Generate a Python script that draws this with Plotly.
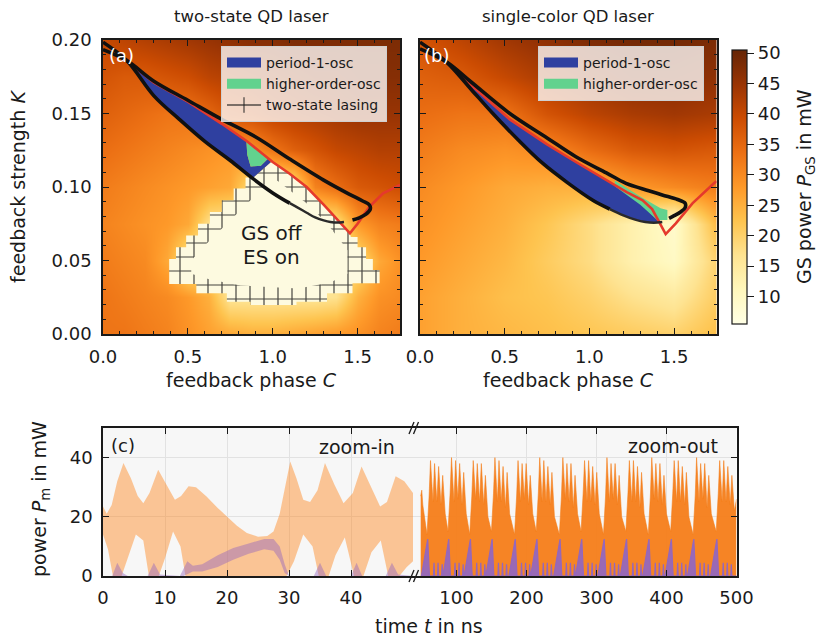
import plotly.graph_objects as go

# ---------------- data: GS power maps ----------------
ys = [0, 0.025, 0.05, 0.075, 0.1, 0.125, 0.15, 0.175, 0.2]
xs_a = [0, 0.125, 0.25, 0.375, 0.5, 0.625, 0.75, 0.875, 1.0, 1.125, 1.25, 1.375, 1.5, 1.625, 1.75]
z_a = [
    [33, 33, 32, 31, 29, 27, 26, 25, 25, 26, 27, 28, 29, 31, 32],
    [33, 32, 31, 30, 28, 25, 16, 16, 16, 16, 16, 17, 25, 29, 30],
    [32, 31, 30, 26, 16, 16, 16, 16, 16, 16, 16, 16, 18, 26, 29],
    [31, 30, 29, 28, 26, 17, 16, 16, 16, 16, 16, 17, 28, 31, 32],
    [32, 31, 30, 29, 28, 27, 26, 18, 16, 18, 31, 34, 37, 38, 39],
    [34, 33, 32, 31, 30, 29, 28, 29, 33, 36, 38, 40, 41, 42, 42],
    [36, 35, 34, 33, 33, 35, 38, 39, 41, 42, 43, 44, 45, 45, 45],
    [38, 37, 37, 38, 39, 41, 42, 43, 44, 45, 46, 46, 47, 47, 47],
    [40, 41, 42, 43, 44, 45, 46, 47, 47, 48, 48, 48, 48, 48, 48],
]
xs_b = [0, 0.25, 0.5, 0.75, 1.0, 1.25, 1.5, 1.75]
z_b = [
    [27, 25, 24, 23, 22, 21, 20, 23],
    [27, 25, 23, 22, 20, 17, 15, 21],
    [28, 26, 24, 21, 18, 13, 10, 20],
    [29, 27, 25, 22, 18, 13, 9, 24],
    [30, 28, 26, 25, 25, 28, 30, 32],
    [32, 30, 29, 30, 34, 37, 38, 37],
    [34, 33, 33, 38, 41, 43, 44, 43],
    [36, 37, 40, 43, 45, 47, 47, 46],
    [38, 41, 44, 46, 48, 49, 49, 48],
]

# ---------------- panel (a) curves/regions ----------------
ua_x = [0.0, 0.14, 0.3, 0.5, 0.7, 0.9, 1.1, 1.3, 1.45, 1.53, 1.57, 1.575, 1.55, 1.51, 1.47]
ua_y = [0.1935, 0.186, 0.172, 0.159, 0.146, 0.134, 0.119, 0.1047, 0.0952, 0.0905, 0.0878, 0.085, 0.0815, 0.079, 0.0775]
la_x = [0.0, 0.14, 0.3, 0.45, 0.6, 0.75, 0.88, 1.0, 1.1]
la_y = [0.1985, 0.186, 0.162, 0.146, 0.131, 0.118, 0.106, 0.096, 0.089]
lda_x = [1.1, 1.15, 1.2, 1.25, 1.3, 1.34, 1.38, 1.42]
lda_y = [0.089, 0.0858, 0.0825, 0.0793, 0.0773, 0.0762, 0.0758, 0.0762]
ra_x = [0.14, 0.3, 0.5, 0.7, 0.85, 1.0, 1.1, 1.2, 1.3, 1.38, 1.42, 1.455, 1.5, 1.57, 1.65, 1.75]
ra_y = [0.186, 0.171, 0.158, 0.143, 0.131, 0.117, 0.109, 0.100, 0.088, 0.078, 0.0725, 0.0685, 0.075, 0.0866, 0.0957, 0.1015]
blue_a_x = [0.14, 0.3, 0.5, 0.7, 0.845, 0.85, 0.87, 0.93, 0.97, 0.99, 0.886, 0.75, 0.6, 0.45, 0.3, 0.14]
blue_a_y = [0.186, 0.171, 0.158, 0.143, 0.131, 0.122, 0.114, 0.1145, 0.119, 0.117, 0.1065, 0.118, 0.131, 0.146, 0.162, 0.186]
green_a_x = [0.845, 0.97, 0.93, 0.87, 0.85]
green_a_y = [0.131, 0.119, 0.1145, 0.114, 0.122]
ring_out_x = [0.886, 0.84, 0.84, 0.77, 0.77, 0.70, 0.70, 0.63, 0.63, 0.56, 0.56, 0.49, 0.49, 0.43, 0.43,
              0.39, 0.39, 0.55, 0.55, 0.73, 0.73, 0.87, 0.87, 1.14, 1.14, 1.32, 1.32, 1.47, 1.47, 1.63,
              1.63, 1.59, 1.59, 1.55, 1.55, 1.50, 1.50, 1.46, 1.455, 1.42, 1.38, 1.3, 1.2, 1.1, 0.99]
ring_out_y = [0.1065, 0.1065, 0.099, 0.099, 0.091, 0.091, 0.083, 0.083, 0.075, 0.075, 0.067, 0.067, 0.059, 0.059, 0.051,
              0.051, 0.034, 0.034, 0.0277, 0.0277, 0.022, 0.022, 0.0197, 0.0197, 0.022, 0.022, 0.0277, 0.0277, 0.0345, 0.0345,
              0.0435, 0.0435, 0.051, 0.051, 0.059, 0.059, 0.066, 0.066, 0.0685, 0.0725, 0.078, 0.088, 0.100, 0.109, 0.117]
ring_in_x = [0.98, 0.93, 0.86, 0.79, 0.72, 0.65, 0.58, 0.52, 0.52, 0.63, 0.81, 1.15, 1.34, 1.44, 1.44, 1.39, 1.32, 1.22, 1.11, 1.03]
ring_in_y = [0.106, 0.098, 0.090, 0.082, 0.074, 0.066, 0.058, 0.050, 0.041, 0.037, 0.033, 0.031, 0.035, 0.041, 0.057, 0.065, 0.075, 0.087, 0.097, 0.104]

# ---------------- panel (b) curves/regions ----------------
ub_x = [0.0, 0.157, 0.3, 0.53, 0.75, 0.92, 1.1, 1.216, 1.35, 1.43, 1.52, 1.565, 1.565, 1.54, 1.5, 1.47]
ub_y = [0.194, 0.185, 0.1716, 0.150, 0.1334, 0.1206, 0.1096, 0.1025, 0.0975, 0.0946, 0.0915, 0.0889, 0.086, 0.0832, 0.0805, 0.0787]
lb_x = [0.0, 0.157, 0.3, 0.43, 0.58, 0.725, 0.87, 1.02, 1.12]
lb_y = [0.1985, 0.185, 0.1667, 0.150, 0.132, 0.116, 0.103, 0.091, 0.085]
ldb_x = [1.12, 1.2, 1.27, 1.33, 1.38, 1.43]
ldb_y = [0.085, 0.0807, 0.0778, 0.0762, 0.0757, 0.0762]
rb_x = [0.157, 0.3, 0.53, 0.75, 0.92, 1.1, 1.22, 1.314, 1.37, 1.40, 1.43, 1.45, 1.51, 1.608, 1.735, 1.75]
rb_y = [0.185, 0.1695, 0.146, 0.129, 0.117, 0.1045, 0.0965, 0.091, 0.085, 0.0787, 0.072, 0.068, 0.0753, 0.0889, 0.1025, 0.104]
blue_b_x = [0.157, 0.3, 0.53, 0.75, 0.92, 1.1, 1.15, 1.3, 1.40, 1.43, 1.41, 1.353, 1.216, 1.02, 0.87, 0.725, 0.58, 0.43, 0.3, 0.157]
blue_b_y = [0.185, 0.1695, 0.146, 0.129, 0.117, 0.1045, 0.1015, 0.089, 0.0778, 0.0765, 0.0757, 0.0757, 0.0798, 0.091, 0.103, 0.116, 0.132, 0.150, 0.166, 0.185]
green_b_x = [1.15, 1.3, 1.42, 1.46, 1.46, 1.40, 1.3, 1.15]
green_b_y = [0.1045, 0.0935, 0.0855, 0.0843, 0.0776, 0.0776, 0.088, 0.1005]

# ---------------- panel (c) time series (envelopes) ----------------
tin_up = [0, 0.6, 1.4, 2.3, 3.3, 4.5, 5.6, 6.5, 7.5, 8.9, 10.2, 11.6, 12.6, 13.8, 15.0, 16.7, 18.5, 20.0, 21.6, 23.2,
          25.0, 26.5, 27.5, 28.5, 29.4, 30.2, 31.2, 32.3, 33.4, 34.6, 35.8, 37.3, 38.8, 40.3, 41.7, 43.2, 44.7, 45.8,
          47.2, 48.6, 50]
pin_up = [23.5, 21, 24, 32, 38.2, 33, 27, 24.6, 28, 35.9, 31, 25.8, 27, 30.3, 30, 26.9, 23, 20, 17, 14.5,
          13.3, 13.5, 15, 21, 31, 38.7, 33, 25.8, 25, 29, 38.2, 31, 24.6, 28, 37, 30, 23.5, 25,
          33.7, 32, 28]
tin_lo = [0, 0.8, 1.6, 3.0, 4.0, 5.3, 6.5, 7.4, 9.0, 10.0, 11.3, 12.5, 13.3, 15, 20, 25, 29.6, 30.8, 32.3, 33.8,
          34.8, 36.4, 37.5, 39.0, 40.5, 42.0, 43.3, 44.8, 46.0, 47.8, 49.0, 50]
pin_lo = [14, 9, 0, 0, 6, 14, 12, 0, 0, 6, 15, 10, 0, 0, 0, 0, 0, 5, 14, 10,
          0, 0, 7, 13, 0, 0, 8, 12, 0, 0, 3, 5]
tes_in_up = [0, 1.5, 2.3, 3.2, 4, 7.2, 8.2, 9.2, 12.4, 13.6, 14.5, 16, 18.5, 21, 23.5, 26, 27.5, 28.5, 29.3, 30,
             34, 35, 36, 40, 40.9, 41.8, 45.6, 46.6, 47.6, 50]
pes_in_up = [0, 0, 4.5, 1, 0, 0, 4.5, 0.5, 0, 5, 3.5, 4, 7, 9.5, 11, 12.5, 12.5, 10, 4, 0,
             0, 4.5, 0, 0, 4.5, 0, 0, 4.5, 0.5, 0]
tes_in_lo = [0, 13, 14.5, 16, 18.5, 21, 23.5, 26, 27.5, 28.5, 29.3, 30, 50]
pes_in_lo = [0, 0, 1.5, 1.5, 3, 5.5, 7.5, 9, 8.5, 5.5, 1, 0, 0]

tout = [49, 50.5, 52, 54, 56,
        58, 61, 63, 66.5, 68.8, 72, 74.6, 78, 80.4, 84,
        88, 91, 93, 96.5, 98.8, 102, 104.6, 108, 110.4, 114,
        119, 122, 124, 127.5, 129.8, 133, 135.6, 139, 141.4, 145,
        150, 153, 155, 158.5, 160.8, 164, 166.6, 170, 172.4, 176,
        183, 186, 188, 191.5, 193.8, 197, 199.6, 203, 205.4, 209,
        214, 217, 219, 222.5, 224.8, 228, 230.6, 234, 236.4, 240,
        247, 250, 252, 255.5, 257.8, 261, 263.6, 267, 269.4, 273,
        278, 281, 283, 286.5, 288.8, 292, 294.6, 298, 300.4, 304,
        310, 313, 315, 318.5, 320.8, 324, 326.6, 330, 332.4, 336,
        342, 345, 347, 350.5, 352.8, 356, 358.6, 362, 364.4, 368,
        374, 377, 379, 382.5, 384.8, 388, 390.6, 394, 396.4, 400,
        406, 409, 411, 414.5, 416.8, 420, 422.6, 426, 428.4, 432,
        438, 441, 443, 446.5, 448.8, 452, 454.6, 458, 460.4, 464,
        471, 474, 476, 479.5, 481.8, 485, 487.6, 491, 493.4, 497, 500]
pout = [27, 29, 24, 21, 18,
        14, 27, 39, 25, 38, 25, 37, 24, 34, 21,
        15, 28, 40, 25, 39, 26, 38, 24, 35, 21,
        14, 27, 39, 26, 38, 25, 38, 24, 34, 20,
        15, 28, 40, 25, 39, 25, 37, 23, 35, 21,
        14, 27, 39, 25, 38, 26, 38, 24, 34, 21,
        15, 28, 40, 25, 39, 25, 37, 24, 35, 20,
        14, 27, 40, 26, 38, 25, 38, 23, 34, 21,
        15, 28, 39, 25, 39, 25, 37, 24, 35, 21,
        14, 27, 40, 25, 38, 26, 38, 24, 34, 20,
        15, 28, 39, 25, 39, 25, 37, 23, 35, 21,
        14, 27, 40, 26, 38, 25, 38, 24, 34, 21,
        15, 28, 39, 25, 39, 25, 37, 24, 35, 20,
        14, 27, 40, 25, 38, 26, 38, 23, 34, 21,
        15, 28, 39, 25, 39, 25, 37, 24, 34, 22, 26]
tes_out = [50, 59, 61.5, 67.2, 68, 68.8, 73, 73.8, 74.6, 78.8, 79.6, 80.4,
           81, 89, 91.5, 97.2, 98, 98.8, 103, 103.8, 104.6, 108.8, 109.6, 110.4,
           111, 120, 122.5, 128.2, 129, 129.8, 134, 134.8, 135.6, 139.8, 140.6, 141.4,
           142, 151, 153.5, 159.2, 160, 160.8, 165, 165.8, 166.6, 170.8, 171.6, 172.4,
           175, 184, 186.5, 192.2, 193, 193.8, 198, 198.8, 199.6, 203.8, 204.6, 205.4,
           206, 215, 217.5, 223.2, 224, 224.8, 229, 229.8, 230.6, 234.8, 235.6, 236.4,
           239, 248, 250.5, 256.2, 257, 257.8, 262, 262.8, 263.6, 267.8, 268.6, 269.4,
           270, 279, 281.5, 287.2, 288, 288.8, 293, 293.8, 294.6, 298.8, 299.6, 300.4,
           302, 311, 313.5, 319.2, 320, 320.8, 325, 325.8, 326.6, 330.8, 331.6, 332.4,
           334, 343, 345.5, 351.2, 352, 352.8, 357, 357.8, 358.6, 362.8, 363.6, 364.4,
           366, 375, 377.5, 383.2, 384, 384.8, 389, 389.8, 390.6, 394.8, 395.6, 396.4,
           398, 407, 409.5, 415.2, 416, 416.8, 421, 421.8, 422.6, 426.8, 427.6, 428.4,
           430, 439, 441.5, 447.2, 448, 448.8, 453, 453.8, 454.6, 458.8, 459.6, 460.4,
           463, 472, 474.5, 480.2, 481, 481.8, 486, 486.8, 487.6, 491.8, 492.6, 493.4, 500]
pes_out = [0, 12.5, 0, 0, 4.5, 0, 0, 4.5, 0, 0, 4, 0,
           0, 12.5, 0, 0, 4.5, 0, 0, 4.5, 0, 0, 4, 0,
           0, 12.5, 0, 0, 4.5, 0, 0, 4.5, 0, 0, 4, 0,
           0, 12.5, 0, 0, 4.5, 0, 0, 4.5, 0, 0, 4, 0,
           0, 12.5, 0, 0, 4.5, 0, 0, 4.5, 0, 0, 4, 0,
           0, 12.5, 0, 0, 4.5, 0, 0, 4.5, 0, 0, 4, 0,
           0, 12.5, 0, 0, 4.5, 0, 0, 4.5, 0, 0, 4, 0,
           0, 12.5, 0, 0, 4.5, 0, 0, 4.5, 0, 0, 4, 0,
           0, 12.5, 0, 0, 4.5, 0, 0, 4.5, 0, 0, 4, 0,
           0, 12.5, 0, 0, 4.5, 0, 0, 4.5, 0, 0, 4, 0,
           0, 12.5, 0, 0, 4.5, 0, 0, 4.5, 0, 0, 4, 0,
           0, 12.5, 0, 0, 4.5, 0, 0, 4.5, 0, 0, 4, 0,
           0, 12.5, 0, 0, 4.5, 0, 0, 4.5, 0, 0, 4, 0,
           0, 12.5, 0, 0, 4.5, 0, 0, 4.5, 0, 0, 4, 0, 0]

# ---------------- styling ----------------
W, H = 817, 640
FONT = "DejaVu Sans"
INK = "#1a1a1a"
BLUE = "#2f40a0"
GREEN = "#62d28e"
RED = "#e5392c"
CREAM = "#fdfae0"
TICK_FS = 18
LABEL_FS = 19


def px(x):
    return x / W


def py(y):
    return 1 - y / H


fig = go.Figure()

# heatmaps
fig.add_trace(go.Heatmap(x=xs_a, y=ys, z=z_a, coloraxis="coloraxis", zsmooth="best",
                         xaxis="x", yaxis="y", hoverinfo="skip"))
fig.add_trace(go.Heatmap(x=xs_b, y=ys, z=z_b, coloraxis="coloraxis", zsmooth="best",
                         xaxis="x2", yaxis="y2", hoverinfo="skip"))

# two-state lasing ring (hatched) + GS-off interior
fig.add_trace(go.Scatter(x=ring_out_x, y=ring_out_y, mode="lines", fill="toself",
                         fillcolor=CREAM, line=dict(width=0),
                         fillpattern=dict(shape="+", fgcolor="#111111", fgopacity=0.8, bgcolor=CREAM,
                                          size=14, solidity=0.16),
                         xaxis="x", yaxis="y", showlegend=False, hoverinfo="skip"))
fig.add_trace(go.Scatter(x=ring_in_x, y=ring_in_y, mode="lines", fill="toself", fillcolor=CREAM,
                         line=dict(width=0), xaxis="x", yaxis="y", showlegend=False, hoverinfo="skip"))

# panel (a) regions
fig.add_trace(go.Scatter(x=blue_a_x, y=blue_a_y, mode="lines", fill="toself", fillcolor=BLUE,
                         line=dict(width=0, color=BLUE), showlegend=False,
                         xaxis="x", yaxis="y", hoverinfo="skip"))
fig.add_trace(go.Scatter(x=green_a_x, y=green_a_y, mode="lines", fill="toself", fillcolor=GREEN,
                         line=dict(width=0, color=GREEN), showlegend=False,
                         xaxis="x", yaxis="y", hoverinfo="skip"))
fig.add_trace(go.Scatter(x=ra_x, y=ra_y, mode="lines", line=dict(color=RED, width=2.6),
                         xaxis="x", yaxis="y", showlegend=False, hoverinfo="skip"))
for cx, cy in ((ua_x, ua_y), (la_x, la_y)):
    fig.add_trace(go.Scatter(x=cx, y=cy, mode="lines", line=dict(color="#111", width=3.6, shape="spline"),
                             xaxis="x", yaxis="y", showlegend=False, hoverinfo="skip"))
fig.add_trace(go.Scatter(x=lda_x, y=lda_y, mode="lines", line=dict(color="#2a2a2a", width=2.4, shape="spline"),
                         xaxis="x", yaxis="y", showlegend=False, hoverinfo="skip"))

# panel (b) regions
fig.add_trace(go.Scatter(x=blue_b_x, y=blue_b_y, mode="lines", fill="toself", fillcolor=BLUE,
                         line=dict(width=0, color=BLUE), showlegend=False,
                         xaxis="x2", yaxis="y2", hoverinfo="skip"))
fig.add_trace(go.Scatter(x=green_b_x, y=green_b_y, mode="lines", fill="toself", fillcolor=GREEN,
                         line=dict(width=0, color=GREEN), showlegend=False,
                         xaxis="x2", yaxis="y2", hoverinfo="skip"))
fig.add_trace(go.Scatter(x=rb_x, y=rb_y, mode="lines", line=dict(color=RED, width=2.6),
                         xaxis="x2", yaxis="y2", showlegend=False, hoverinfo="skip"))
for cx, cy in ((ub_x, ub_y), (lb_x, lb_y)):
    fig.add_trace(go.Scatter(x=cx, y=cy, mode="lines", line=dict(color="#111", width=3.6, shape="spline"),
                             xaxis="x2", yaxis="y2", showlegend=False, hoverinfo="skip"))
fig.add_trace(go.Scatter(x=ldb_x, y=ldb_y, mode="lines", line=dict(color="#2a2a2a", width=2.4, shape="spline"),
                         xaxis="x2", yaxis="y2", showlegend=False, hoverinfo="skip"))

# legend entries
for lg, ax, ay in (("legend", "x", "y"), ("legend2", "x2", "y2")):
    fig.add_trace(go.Scatter(x=[None], y=[None], mode="lines", name="period-1-osc",
                             line=dict(color=BLUE, width=12), legend=lg, xaxis=ax, yaxis=ay))
    fig.add_trace(go.Scatter(x=[None], y=[None], mode="lines", name="higher-order-osc",
                             line=dict(color=GREEN, width=12), legend=lg, xaxis=ax, yaxis=ay))
fig.add_trace(go.Scatter(x=[None], y=[None], mode="lines+markers", name="two-state lasing",
                         line=dict(color="rgba(30,30,30,0.75)", width=1.3),
                         marker=dict(symbol="line-ns-open", size=11, color="rgba(30,30,30,0.75)",
                                     line=dict(width=1.3, color="rgba(30,30,30,0.75)")),
                         legend="legend", xaxis="x", yaxis="y"))

# panel (c) zoom-in
fig.add_trace(go.Scatter(x=tin_up + tin_lo[::-1], y=pin_up + pin_lo[::-1], mode="lines", fill="toself",
                         fillcolor="rgba(255,127,14,0.42)", line=dict(width=0),
                         xaxis="x3", yaxis="y3", showlegend=False, hoverinfo="skip"))
fig.add_trace(go.Scatter(x=tes_in_up + tes_in_lo[::-1], y=pes_in_up + pes_in_lo[::-1], mode="lines",
                         fill="toself", fillcolor="rgba(148,103,189,0.45)", line=dict(width=0),
                         xaxis="x3", yaxis="y3", showlegend=False, hoverinfo="skip"))
# panel (c) zoom-out
fig.add_trace(go.Scatter(x=tout, y=pout, mode="lines", fill="tozeroy",
                         fillcolor="rgba(245,125,25,0.95)", line=dict(width=0.6, color="rgba(245,125,25,0.95)"),
                         xaxis="x4", yaxis="y4", showlegend=False, hoverinfo="skip"))
fig.add_trace(go.Scatter(x=tes_out, y=pes_out, mode="lines", fill="tozeroy",
                         fillcolor="rgba(148,103,189,0.95)", line=dict(width=1.2, color="rgba(148,103,189,1)"),
                         xaxis="x4", yaxis="y4", showlegend=False, hoverinfo="skip"))

tickfont = dict(family=FONT, size=TICK_FS, color=INK)
top_axis = dict(ticks="inside", ticklen=6, tickwidth=1.2, tickcolor=INK, showline=True, linecolor=INK,
                linewidth=1.5, mirror="ticks", showgrid=False, zeroline=False, tickfont=tickfont,
                ticklabelstandoff=6)

xa = dict(top_axis, range=[0, 1.75], tickmode="linear", tick0=0, dtick=0.5, tickformat=".1f",
          minor=dict(ticks="inside", ticklen=3, tickcolor=INK, dtick=0.1, tick0=0))
ya = dict(top_axis, range=[0, 0.2], tickmode="linear", tick0=0, dtick=0.05, tickformat=".2f",
          minor=dict(ticks="inside", ticklen=3, tickcolor=INK, dtick=0.01, tick0=0))

dom_top = [py(334), py(40)]
dom_bot = [py(576), py(428)]
bot_common = dict(ticks="inside", ticklen=6, tickwidth=1.2, tickcolor=INK, showline=True, linecolor=INK,
                  linewidth=1.5, showgrid=True, gridcolor="#e2e2e2", gridwidth=1, zeroline=False,
                  tickfont=tickfont, ticklabelstandoff=5)

legend_style = dict(xanchor="left", yanchor="top", bgcolor="rgba(255,255,255,0.78)",
                    bordercolor="#d0d0d0", borderwidth=1, font=dict(family=FONT, size=14, color=INK),
                    tracegroupgap=0, itemwidth=34)

fig.update_layout(
    width=W, height=H, margin=dict(l=0, r=0, t=0, b=0, autoexpand=False),
    paper_bgcolor="white", plot_bgcolor="#f7f7f7",
    font=dict(family=FONT, color=INK),
    xaxis=dict(xa, domain=[px(103), px(400)], anchor="y"),
    yaxis=dict(ya, domain=dom_top, anchor="x"),
    xaxis2=dict(xa, domain=[px(420), px(716.5)], anchor="y2"),
    yaxis2=dict(ya, domain=dom_top, anchor="x2", showticklabels=False),
    xaxis3=dict(bot_common, domain=[px(103), px(413)], anchor="y3", range=[0, 50],
                tickvals=[0, 10, 20, 30, 40], mirror="ticks"),
    yaxis3=dict(bot_common, domain=dom_bot, anchor="x3", range=[0, 50], tickvals=[0, 20, 40]),
    xaxis4=dict(bot_common, domain=[px(413), px(736.5)], anchor="y4", range=[38, 500],
                tickvals=[100, 200, 300, 400, 500], mirror="ticks"),
    yaxis4=dict(bot_common, domain=dom_bot, anchor="x4", range=[0, 50], tickvals=[20, 40],
                side="right", showticklabels=False),
    coloraxis=dict(colorscale="YlOrBr", cmin=5.5, cmax=50.5,
                   colorbar=dict(x=px(722), xanchor="left", thickness=15, thicknessmode="pixels",
                                 len=294 / H, lenmode="fraction", y=py(187), yanchor="middle",
                                 outlinewidth=1.2, outlinecolor=INK, ticks="outside", ticklen=7,
                                 tickcolor=INK, tickvals=[10, 15, 20, 25, 30, 35, 40, 45, 50],
                                 tickfont=tickfont)),
    legend=dict(legend_style, x=px(221), y=py(46)),
    legend2=dict(legend_style, x=px(538), y=py(46)),
)

ann = []


def add_text(x, y, text, size=LABEL_FS, color=INK, angle=0, xanchor="center", yanchor="middle"):
    ann.append(dict(x=px(x), y=py(y), xref="paper", yref="paper", text=text, showarrow=False,
                    font=dict(family=FONT, size=size, color=color), textangle=angle,
                    xanchor=xanchor, yanchor=yanchor))


add_text(251, 16, "two-state QD laser", 16.5)
add_text(568, 16, "single-color QD laser", 16.5)
add_text(18, 187, "feedback strength <i>K</i>", LABEL_FS, angle=-90)
add_text(251, 380, "feedback phase <i>C</i>", LABEL_FS)
add_text(568, 380, "feedback phase <i>C</i>", LABEL_FS)
add_text(805, 187, "GS power <i>P</i><sub>GS</sub> in mW", LABEL_FS, angle=-90)
add_text(121, 55, "(a)", 18, color="white")
add_text(437, 55, "(b)", 18, color="white")
add_text(123, 445, "(c)", 18)
add_text(397, 447, "zoom-in", LABEL_FS, xanchor="right")
add_text(720, 446, "zoom-out", LABEL_FS, xanchor="right")
add_text(40, 499, "power <i>P</i><sub>m</sub> in mW", LABEL_FS, angle=-90)
add_text(429, 626, "time <i>t</i> in ns", LABEL_FS)
ann.append(dict(x=0.993, y=0.0685, xref="x", yref="y", text="GS off", showarrow=False,
                font=dict(family=FONT, size=20, color=INK)))
ann.append(dict(x=0.993, y=0.0526, xref="x", yref="y", text="ES on", showarrow=False,
                font=dict(family=FONT, size=20, color=INK)))
fig.update_layout(annotations=ann)

# axis-break marks
shapes = []
for yb in (428, 576):
    for dx in (0, 4.5):
        shapes.append(dict(type="line", xref="paper", yref="paper",
                           x0=px(409 + dx), y0=py(yb + 6), x1=px(414 + dx), y1=py(yb - 6),
                           line=dict(color=INK, width=1.3)))
fig.update_layout(shapes=shapes)

fig.write_html("out.html")
